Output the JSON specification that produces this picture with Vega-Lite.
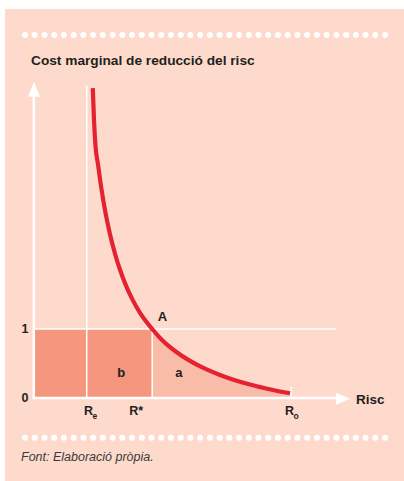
{
  "$schema": "https://vega.github.io/schema/vega-lite/v6.json",
  "width": 404,
  "height": 481,
  "autosize": {"type": "none"},
  "padding": 0,
  "background": "white",
  "config": {"view": {"stroke": null}, "text": {"font": "Liberation Sans"}},
  "datasets": {
    "panel": [{"x": -3.0, "x2": 37, "y": -1.3, "y2": 5.638}],
    "blocks": [{"x": 0, "x2": 11.72, "y": 0, "y2": 1}],
    "curve": [
      {"x": 5.78, "y": 4.49}, {"x": 5.9, "y": 4.03}, {"x": 6.05, "y": 3.65}, {"x": 6.3, "y": 3.388},
      {"x": 6.6, "y": 3.073}, {"x": 7.0, "y": 2.724}, {"x": 7.5, "y": 2.373}, {"x": 8.0, "y": 2.091},
      {"x": 8.5, "y": 1.859}, {"x": 9.1, "y": 1.629}, {"x": 9.7, "y": 1.44}, {"x": 10.5, "y": 1.234},
      {"x": 11.72, "y": 1.0}, {"x": 12.7, "y": 0.84}, {"x": 14.0, "y": 0.681}, {"x": 15.5, "y": 0.538},
      {"x": 17.0, "y": 0.425}, {"x": 18.5, "y": 0.334}, {"x": 20.0, "y": 0.258}, {"x": 21.5, "y": 0.195},
      {"x": 23.0, "y": 0.142}, {"x": 24.5, "y": 0.095}, {"x": 25.5, "y": 0.068}
    ],
    "thinlines": [
      {"x": 5.17, "x2": 5.17, "y": 0, "y2": 4.526},
      {"x": 11.72, "x2": 11.72, "y": 0, "y2": 1},
      {"x": 0, "x2": 30.1, "y": 1, "y2": 1},
      {"x": 25.6, "x2": 25.6, "y": 0, "y2": 0.164}
    ],
    "axes": [
      {"x": -0.12, "x2": -0.12, "y": 0, "y2": 4.4},
      {"x": -0.25, "x2": 30.2, "y": 0, "y2": 0}
    ],
    "arrows": [
      {"x": -0.1, "y": 4.474, "dir": "up"},
      {"x": 30.8, "y": -0.01, "dir": "right"}
    ],
    "labels": [
      {"role": "value", "x": -0.65, "y": -0.054, "label": "0"},
      {"role": "value", "x": -0.65, "y": 0.946, "label": "1"},
      {"role": "region", "x": 12.75, "y": 1.116, "label": "A"},
      {"role": "region", "x": 8.63, "y": 0.309, "label": "b"},
      {"role": "region", "x": 14.38, "y": 0.309, "label": "a"},
      {"role": "axisname", "x": 32.1, "y": -0.087, "label": "Risc"},
      {"role": "title", "x": -0.4, "y": 4.826, "label": "Cost marginal de reducció del risc"},
      {"role": "source", "x": -1.4, "y": -0.913, "label": "Font: Elaboració pròpia."}
    ],
    "ticks": [
      {"x": 4.9, "y": -0.246, "label": "R", "sub": "e"},
      {"x": 9.43, "y": -0.246, "label": "R*", "sub": ""},
      {"x": 25.0, "y": -0.246, "label": "R", "sub": "o"}
    ],
    "dots": [
      {"y": 5.261, "x": [-1.0, -0.03, 0.95, 1.92, 2.89, 3.86, 4.84, 5.81, 6.78, 7.76, 8.73, 9.7, 10.68, 11.65, 12.62, 13.59, 14.57, 15.54, 16.51, 17.49, 18.46, 19.43, 20.41, 21.38, 22.35, 23.32, 24.3, 25.27, 26.24, 27.22, 28.19, 29.16, 30.14, 31.11, 32.08, 33.05, 34.03, 35.0]},
      {"y": -0.575, "x": [-1.0, -0.03, 0.95, 1.92, 2.89, 3.86, 4.84, 5.81, 6.78, 7.76, 8.73, 9.7, 10.68, 11.65, 12.62, 13.59, 14.57, 15.54, 16.51, 17.49, 18.46, 19.43, 20.41, 21.38, 22.35, 23.32, 24.3, 25.27, 26.24, 27.22, 28.19, 29.16, 30.14, 31.11, 32.08, 33.05, 34.03, 35.0]}
    ]
  },
  "encoding": {
    "x": {"field": "x", "type": "quantitative", "scale": {"domain": [-3.5, 36.9], "nice": false, "zero": false}, "axis": null},
    "y": {"field": "y", "type": "quantitative", "scale": {"domain": [-1.2029, 5.7681], "nice": false, "zero": false}, "axis": null}
  },
  "layer": [
    {
      "data": {"name": "panel"},
      "mark": {"type": "rect", "color": "#FDDACC"},
      "encoding": {"x2": {"field": "x2"}, "y2": {"field": "y2"}}
    },
    {
      "data": {"name": "blocks"},
      "mark": {"type": "rect", "color": "#F5977F"},
      "encoding": {"x2": {"field": "x2"}, "y2": {"field": "y2"}}
    },
    {
      "data": {"name": "curve"},
      "transform": [{"filter": "datum.x >= 11.7"}],
      "mark": {"type": "area", "color": "#F9BCA8", "interpolate": "monotone", "opacity": 1},
      "encoding": {"y2": {"datum": 0}}
    },
    {
      "data": {"name": "thinlines"},
      "mark": {"type": "rule", "color": "white", "strokeWidth": 1.5},
      "encoding": {"x2": {"field": "x2"}, "y2": {"field": "y2"}}
    },
    {
      "data": {"name": "axes"},
      "mark": {"type": "rule", "color": "white", "strokeWidth": 2.5},
      "encoding": {"x2": {"field": "x2"}, "y2": {"field": "y2"}}
    },
    {
      "data": {"name": "arrows"},
      "transform": [{"filter": "datum.dir === 'up'"}],
      "mark": {"type": "point", "shape": "M0,-1L0.8,1L-0.8,1Z", "size": 225, "filled": true, "color": "white", "opacity": 1, "strokeWidth": 0}
    },
    {
      "data": {"name": "arrows"},
      "transform": [{"filter": "datum.dir === 'right'"}],
      "mark": {"type": "point", "shape": "M1,0L-1,0.857L-1,-0.857Z", "size": 196, "filled": true, "color": "white", "opacity": 1, "strokeWidth": 0}
    },
    {
      "data": {"name": "curve"},
      "mark": {"type": "line", "color": "#E42231", "strokeWidth": 4.2, "interpolate": "monotone", "strokeCap": "butt"}
    },
    {
      "data": {"name": "dots"},
      "transform": [{"flatten": ["x"]}],
      "mark": {"type": "point", "shape": "circle", "size": 36, "filled": true, "color": "white", "opacity": 1, "strokeWidth": 0}
    },
    {
      "data": {"name": "labels"},
      "transform": [{"filter": "datum.role === 'value'"}],
      "mark": {"type": "text", "align": "right", "baseline": "alphabetic", "fontSize": 12.5, "fontWeight": "bold", "color": "#231F20"},
      "encoding": {"text": {"field": "label"}}
    },
    {
      "data": {"name": "labels"},
      "transform": [{"filter": "datum.role === 'region'"}],
      "mark": {"type": "text", "align": "center", "baseline": "alphabetic", "fontSize": 13, "fontWeight": "bold", "color": "#231F20"},
      "encoding": {"text": {"field": "label"}}
    },
    {
      "data": {"name": "labels"},
      "transform": [{"filter": "datum.role === 'axisname'"}],
      "mark": {"type": "text", "align": "left", "baseline": "alphabetic", "fontSize": 13.5, "fontWeight": "bold", "color": "#231F20"},
      "encoding": {"text": {"field": "label"}}
    },
    {
      "data": {"name": "labels"},
      "transform": [{"filter": "datum.role === 'title'"}],
      "mark": {"type": "text", "align": "left", "baseline": "alphabetic", "fontSize": 13.7, "fontWeight": "bold", "color": "#231F20"},
      "encoding": {"text": {"field": "label"}}
    },
    {
      "data": {"name": "labels"},
      "transform": [{"filter": "datum.role === 'source'"}],
      "mark": {"type": "text", "align": "left", "baseline": "alphabetic", "fontSize": 12.5, "fontStyle": "italic", "color": "#3A3A3A"},
      "encoding": {"text": {"field": "label"}}
    },
    {
      "data": {"name": "ticks"},
      "mark": {"type": "text", "align": "left", "baseline": "alphabetic", "fontSize": 12.5, "fontWeight": "bold", "color": "#231F20"},
      "encoding": {"text": {"field": "label"}}
    },
    {
      "data": {"name": "ticks"},
      "mark": {"type": "text", "align": "left", "baseline": "alphabetic", "fontSize": 8.5, "fontWeight": "bold", "color": "#231F20", "dx": 8.6, "dy": 4.5},
      "encoding": {"text": {"field": "sub"}}
    }
  ]
}
